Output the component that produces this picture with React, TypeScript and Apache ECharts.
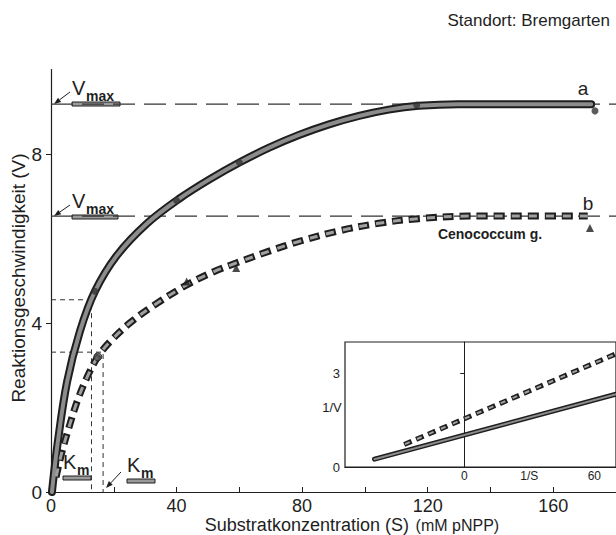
import React, { useEffect, useRef } from "react";
import * as echarts from "echarts";

// Main plot: Michaelis-Menten curves (S in mM pNPP, V)
const curveA_S = [0.3, 2.2, 5.1, 9.2, 14.0, 21.0, 30.5, 41.0, 50.5, 60.0, 69.5, 79.0, 88.6, 98.1, 107.6, 117.1, 129.8, 148.9, 172.1];
const curveA_V = [0, 1.2, 2.6, 3.8, 4.75, 5.6, 6.35, 6.95, 7.4, 7.8, 8.15, 8.45, 8.7, 8.9, 9.05, 9.14, 9.18, 9.18, 9.18];
const curveB_S = [1.6, 3.5, 6.0, 8.6, 11.7, 14.9, 18.7, 25.1, 32.4, 43.2, 51.4, 59.0, 69.5, 79.0, 91.7, 104.4, 117.1, 133.0, 171.0];
const curveB_V = [0.35, 0.95, 1.6, 2.2, 2.75, 3.2, 3.55, 4.0, 4.4, 4.9, 5.2, 5.42, 5.7, 5.93, 6.18, 6.36, 6.47, 6.53, 6.53];

const pointsA_S = [14.0, 40.0, 60.0, 116.5, 173.3];
const pointsA_V = [4.75, 6.9, 7.8, 9.16, 9.02];
const circlesB_S = [14.9];
const circlesB_V = [3.2];
const trianglesB_S = [43.2, 59.0, 171.7];
const trianglesB_V = [4.98, 5.3, 6.25];

const vmaxA = 9.18;
const vmaxB = 6.53;
const kmA = 12.9;
const kmB = 16.6;
const halfA = 4.55;
const halfB = 3.31;

const xTickLabels = [0, 40, 80, 120, 160];
const xTicks = [0, 20, 40, 60, 80, 100, 120, 140, 160, 180];
const yTickLabels = [0, 4, 8];

// Inset: Lineweaver-Burk (1/S, 1/V)
const lbSolid_X = [-41.4, 70];
const lbSolid_Y = [0.25, 2.33];
const lbDash_X = [-27.7, 70];
const lbDash_Y = [0.72, 3.62];
const insetXLabels = [0, 30, 60];
const insetYLabels = [0, 3];

const zip = (a: number[], b: number[]) => a.map((v, i) => [v, b[i]]);

const FONT = "'Liberation Sans', Arial, Helvetica, sans-serif";
const INK = "#1e1e1e";

function arrow(x1: number, y1: number, x2: number, y2: number) {
  const dx = x2 - x1, dy = y2 - y1;
  const len = Math.sqrt(dx * dx + dy * dy);
  const ux = dx / len, uy = dy / len;
  const hl = 7, hw = 2.6;
  const bx = x2 - ux * hl, by = y2 - uy * hl;
  return [
    { type: "line", shape: { x1, y1, x2: bx, y2: by }, style: { stroke: INK, lineWidth: 1 } },
    {
      type: "polygon",
      shape: { points: [[x2, y2], [bx - uy * hw, by + ux * hw], [bx + uy * hw, by - ux * hw]] },
      style: { fill: INK },
    },
  ];
}

function subLabel(x: number, y: number, main: string, sub: string, barW: number) {
  return [
    { type: "text", x, y, style: { text: main, font: `20px ${FONT}`, fill: INK, textVerticalAlign: "middle" } },
    { type: "text", x: x + 14, y: y + 8, style: { text: sub, font: `bold 14px ${FONT}`, fill: INK, textVerticalAlign: "middle" } },
    { type: "rect", shape: { x: x, y: y + 14, width: barW, height: 4 }, style: { fill: "#9a9a9a", stroke: INK, lineWidth: 1 } },
  ];
}

export default function App() {
  const ref = useRef<HTMLDivElement>(null);
  useEffect(() => {
    if (!ref.current) return;
    const chart = echarts.init(ref.current, null, { renderer: "svg" });
    const thickSolid = (data: number[][], xi: number, w1: number, w2: number, smooth: number | boolean) => [
      { type: "line", xAxisIndex: xi, yAxisIndex: xi, data, smooth, symbol: "none", lineStyle: { color: INK, width: w1, cap: "round" }, z: 3 },
      { type: "line", xAxisIndex: xi, yAxisIndex: xi, data, smooth, symbol: "none", lineStyle: { color: "#8c8c8c", width: w2, cap: "round" }, z: 4 },
    ];
    const thickDash = (data: number[][], xi: number, w1: number, w2: number, d: number, g: number, smooth: number | boolean) => [
      { type: "line", xAxisIndex: xi, yAxisIndex: xi, data, smooth, symbol: "none", lineStyle: { color: INK, width: w1, type: [d, g] }, z: 3 },
      { type: "line", xAxisIndex: xi, yAxisIndex: xi, data, smooth, symbol: "none", lineStyle: { color: "#a0a0a0", width: w2, type: [d - 3, g + 3], dashOffset: -1.5 }, z: 4 },
    ];
    const thin = (data: number[][], dash: number[], w = 1) => ({
      type: "line", xAxisIndex: 0, yAxisIndex: 0, data, symbol: "none",
      lineStyle: { color: "#333", width: w, type: dash }, z: 2,
    });

    chart.setOption({
      animation: false,
      backgroundColor: "#fff",
      grid: [
        { left: 51, top: 69.5, width: 567, height: 422.5, containLabel: false },
        { left: 345, top: 342, width: 287.5, height: 125, show: true, backgroundColor: "#fff", borderColor: INK, borderWidth: 1.2, z: 5 },
      ],
      xAxis: [
        {
          type: "value", gridIndex: 0, min: 0, max: 180,
          axisLine: { show: true, onZero: false, lineStyle: { color: INK, width: 1.2 } },
          axisTick: { show: true, inside: true, length: 5, customValues: xTicks, lineStyle: { color: INK } },
          axisLabel: { customValues: xTickLabels, fontSize: 18, color: INK, fontFamily: FONT, margin: 5 },
          splitLine: { show: false },
        },
        {
          type: "value", gridIndex: 1, min: -55, max: 70, z: 6,
          axisLine: { show: true, onZero: false, lineStyle: { color: INK, width: 1.2 } },
          axisTick: { show: false },
          axisLabel: { customValues: insetXLabels, fontSize: 12, color: INK, fontFamily: FONT, margin: 3, formatter: (v: number) => (v === 30 ? "1/S" : String(v)) },
          splitLine: { show: false },
        },
      ],
      yAxis: [
        {
          type: "value", gridIndex: 0, min: 0, max: 10,
          axisLine: { show: true, onZero: false, lineStyle: { color: INK, width: 1.2 } },
          axisTick: { show: true, length: 5, customValues: yTickLabels, lineStyle: { color: INK } },
          axisLabel: { customValues: yTickLabels, fontSize: 19, color: INK, fontFamily: FONT, margin: 9 },
          splitLine: { show: false },
        },
        {
          type: "value", gridIndex: 1, min: 0, max: 4, z: 6,
          axisLine: { show: true, onZero: true, lineStyle: { color: INK, width: 1 } },
          axisTick: { show: true, length: 4, customValues: insetYLabels, lineStyle: { color: INK } },
          axisLabel: { customValues: insetYLabels, fontSize: 13, color: INK, fontFamily: FONT, margin: 5 },
          splitLine: { show: false },
        },
      ],
      series: [
        thin([[0, vmaxA], [180, vmaxA]], [22, 9], 1.2),
        thin([[0, vmaxB], [180, vmaxB]], [22, 9], 1.2),
        thin([[0, halfA], [kmA, halfA], [kmA, 0]], [5, 4], 1),
        thin([[0, halfB], [kmB, halfB], [kmB, 0]], [5, 4], 1),
        ...thickSolid(zip(curveA_S, curveA_V), 0, 8, 4, 0.35),
        ...thickDash(zip(curveB_S, curveB_V), 0, 7, 3, 11, 6, 0.35),
        {
          type: "scatter", xAxisIndex: 0, yAxisIndex: 0, data: zip(pointsA_S, pointsA_V),
          symbol: "circle", symbolSize: 7, itemStyle: { color: "#333" }, z: 6,
        },
        {
          type: "scatter", xAxisIndex: 0, yAxisIndex: 0, data: zip(circlesB_S, circlesB_V),
          symbol: "circle", symbolSize: 8, itemStyle: { color: "#555", borderColor: INK, borderWidth: 1 }, z: 6,
        },
        {
          type: "scatter", xAxisIndex: 0, yAxisIndex: 0, data: zip(trianglesB_S, trianglesB_V),
          symbol: "triangle", symbolSize: 8, itemStyle: { color: INK }, z: 6,
        },
        ...thickSolid(zip(lbSolid_X, lbSolid_Y), 1, 5, 2, false),
        ...thickDash(zip(lbDash_X, lbDash_Y), 1, 5, 2, 8, 5, false),
      ].map((s: any) => (s.xAxisIndex === 1 ? { ...s, z: (s.z || 2) + 10 } : s)),
      graphic: [
        { type: "text", x: 610, y: 20, style: { text: "Standort: Bremgarten", font: `17px ${FONT}`, fill: INK, textAlign: "right", textVerticalAlign: "middle" } },
        { type: "text", x: 18, y: 278, rotation: Math.PI / 2, style: { text: "Reaktionsgeschwindigkeit (V)", font: `19px ${FONT}`, fill: INK, textAlign: "center", textVerticalAlign: "middle" } },
        {
          type: "text", x: 352, y: 525,
          style: {
            text: "{a|Substratkonzentration (S)}  {b|(mM pNPP)}",
            rich: { a: { font: `18px ${FONT}`, fill: INK }, b: { font: `16px ${FONT}`, fill: INK } },
            textAlign: "center", textVerticalAlign: "middle",
          },
        },
        { type: "text", x: 583, y: 88, style: { text: "a", font: `19px ${FONT}`, fill: INK, textAlign: "center", textVerticalAlign: "middle" } },
        { type: "text", x: 588, y: 203, style: { text: "b", font: `19px ${FONT}`, fill: INK, textAlign: "center", textVerticalAlign: "middle" } },
        { type: "text", x: 490, y: 234, style: { text: "Cenococcum g.", font: `bold 14px ${FONT}`, fill: INK, textAlign: "center", textVerticalAlign: "middle" } },
        { type: "text", x: 332, y: 407, z: 20, style: { text: "1/V", font: `13px ${FONT}`, fill: INK, textAlign: "center", textVerticalAlign: "middle" } },
        ...subLabel(72, 88, "V", "max", 48),
        ...arrow(70, 92, 54, 104),
        ...subLabel(72, 201, "V", "max", 46),
        ...arrow(70, 205, 54, 216),
        ...subLabel(63, 462, "K", "m", 28),
        ...subLabel(127, 465, "K", "m", 28),
        ...arrow(121, 472, 106, 488),
      ],
    });
    return () => chart.dispose();
  }, []);
  return <div ref={ref} style={{ position: "absolute", left: 0, top: 0, width: 616, height: 535, overflow: "hidden" }} />;
}
